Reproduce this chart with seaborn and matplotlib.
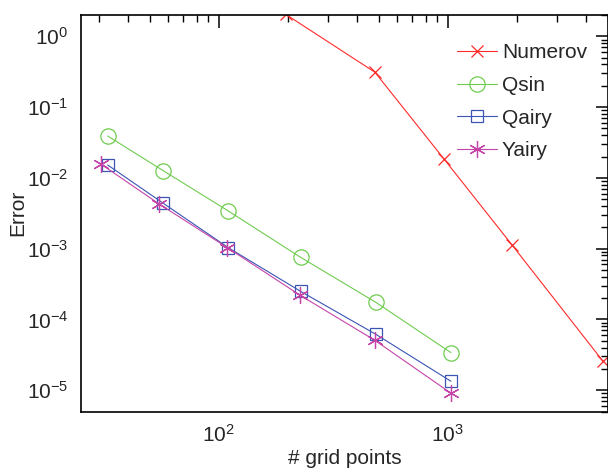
import matplotlib
matplotlib.use('Agg')
import matplotlib.pyplot as plt
import matplotlib.ticker as mticker
import pandas as pd
import seaborn as sns

# values (log-log)
numerov_n = [196, 480, 961, 1900, 4756]
numerov_err = [2.04, 0.311, 0.0185, 1.14e-3, 2.56e-5]

qsin_n = [32.7, 57, 110, 228, 485, 1030]
qsin_err = [0.039, 0.0127, 3.4e-3, 7.5e-4, 1.74e-4, 3.4e-5]

qairy_n = [32.7, 57, 110, 228, 485, 1030]
qairy_err = [0.0152, 4.4e-3, 1.03e-3, 2.48e-4, 6.15e-5, 1.34e-5]

yairy_n = [30.5, 54.7, 109, 226, 480, 1030]
yairy_err = [0.0157, 4.3e-3, 1.03e-3, 2.2e-4, 5.06e-5, 9.1e-6]

sns.set_theme(style='white')
plt.rcParams['font.family'] = ['Liberation Sans', 'DejaVu Sans']
plt.rcParams['axes.linewidth'] = 1.2
plt.rcParams['axes.edgecolor'] = 'black'

fig = plt.figure(figsize=(6.08, 4.68), dpi=100)
ax = fig.add_axes([81 / 608, 1 - 411.5 / 468, 527 / 608, 396.5 / 468])

series = [
    ('Numerov', numerov_n, numerov_err, '#ff2a2a', 'x', 9),
    ('Qsin', qsin_n, qsin_err, '#6fcc4f', 'o', 11),
    ('Qairy', qairy_n, qairy_err, '#3a55b4', 's', 9),
    ('Yairy', yairy_n, yairy_err, '#c444a8', (6, 2, 0), 12),
]

for name, xs, ys, col, mk, ms in series:
    df = pd.DataFrame({'n': xs, 'err': ys})
    sns.lineplot(data=df, x='n', y='err', ax=ax, color=col, marker=mk,
                 markersize=ms, markerfacecolor='none', markeredgecolor=col,
                 markeredgewidth=0.9, linewidth=0.8, label=name, sort=False,
                 estimator=None)

ax.set_xscale('log')
ax.set_yscale('log')
ax.set_xlim(25, 5000)
ax.set_ylim(5e-6, 2)

ax.xaxis.set_minor_formatter(mticker.NullFormatter())
ax.yaxis.set_minor_formatter(mticker.NullFormatter())
ax.tick_params(which='both', direction='in', top=True, right=True,
               color='black', labelsize=15)
ax.tick_params(which='major', length=9, width=1.1)
ax.tick_params(which='minor', length=5, width=1.0)
ax.tick_params(axis='x', which='major', pad=9)
ax.tick_params(axis='y', which='major', pad=9)

ax.set_xlabel('# grid points', fontsize=15, labelpad=2)
ax.set_ylabel('Error', fontsize=15, labelpad=0)

for s in ax.spines.values():
    s.set_visible(True)
    s.set_color('black')

ax.legend(loc='upper left', bbox_to_anchor=(0.698, 0.95), frameon=False,
          fontsize=15, handlelength=1.9, labelspacing=0.66, handletextpad=0.25,
          borderaxespad=0)

fig.savefig('out.png', dpi=100)
